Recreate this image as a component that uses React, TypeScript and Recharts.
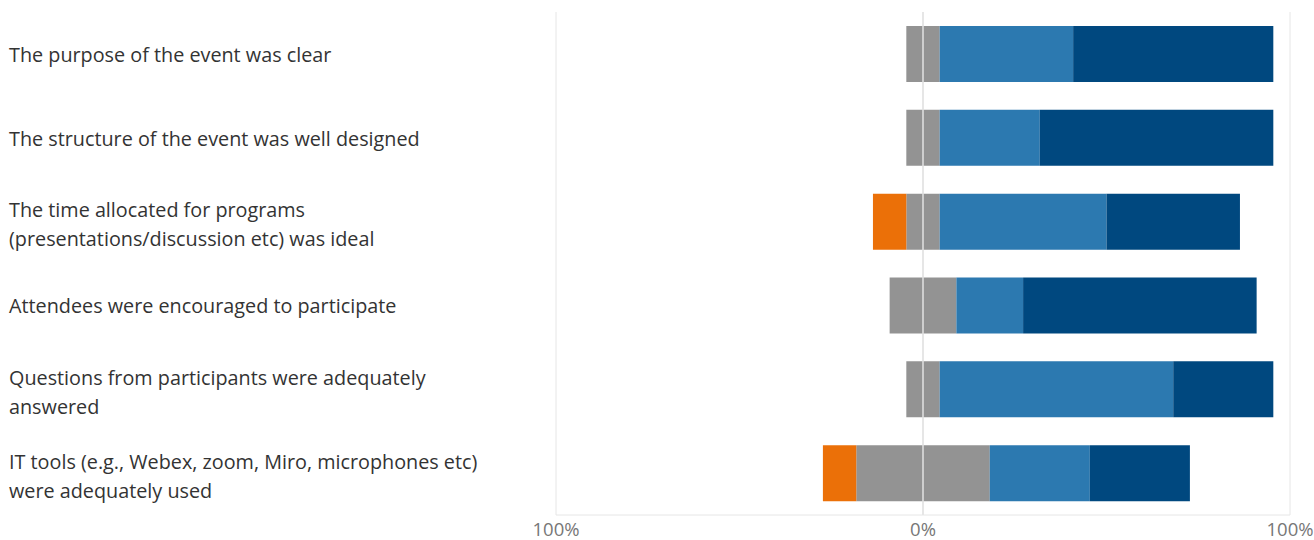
import React from 'react';
import {
  BarChart,
  Bar,
  XAxis,
  YAxis,
  CartesianGrid,
  ReferenceLine,
} from 'recharts';

// --- Data (respondent counts per statement) ---
const statements = [
  'The purpose of the event was clear',
  'The structure of the event was well designed',
  'The time allocated for programs\n(presentations/discussion etc) was ideal',
  'Attendees were encouraged to participate',
  'Questions from participants were adequately\nanswered',
  'IT tools (e.g., Webex, zoom, Miro, microphones etc)\nwere adequately used',
];
const disagree = [0, 0, 1, 0, 0, 1];
const neutral = [1, 1, 1, 2, 1, 4];
const agree = [4, 3, 5, 2, 7, 3];
const stronglyAgree = [6, 7, 4, 7, 3, 3];
const respondents = 11;

const xTicks = [-1, 0, 1];

const COLORS = {
  disagree: '#EB7008',
  neutral: '#939393',
  agree: '#2C79B0',
  stronglyAgree: '#00487F',
};

// neutral answers are split in half around 0
const data = statements.map((name, i) => ({
  name,
  neutralNeg: -neutral[i] / respondents / 2,
  disagree: -disagree[i] / respondents,
  neutralPos: neutral[i] / respondents / 2,
  agree: agree[i] / respondents,
  stronglyAgree: stronglyAgree[i] / respondents,
}));

const FONT = '"Open Sans", sans-serif';

const StatementTick = (props: any) => {
  const { y, payload } = props;
  const lines: string[] = String(payload.value).split('\n');
  const lineHeight = 29;
  const startY = y - ((lines.length - 1) * lineHeight) / 2 + (lines.length > 1 ? 5 : 3);
  return (
    <text x={9} y={startY} textAnchor="start" dominantBaseline="middle" fill="#333" fontSize={19.8} fontFamily={FONT}>
      {lines.map((line, i) => (
        <tspan key={i} x={9} dy={i === 0 ? 0 : lineHeight}>
          {line}
        </tspan>
      ))}
    </text>
  );
};

const App: React.FC = () => {
  return (
    <div style={{ position: 'absolute', left: 0, top: 0, background: '#fff' }}>
      <BarChart
        width={1314}
        height={540}
        data={data}
        layout="vertical"
        stackOffset="sign"
        barSize={56}
        margin={{ top: 12, right: 24, bottom: 0, left: 0 }}
      >
        <CartesianGrid horizontal={false} stroke="#e6e6e6" verticalValues={xTicks} />
        <XAxis
          type="number"
          domain={[-1, 1]}
          ticks={xTicks}
          tickFormatter={(v: number) => `${Math.round(Math.abs(v) * 100)}%`}
          axisLine={{ stroke: '#e6e6e6' }}
          tickLine={false}
          tickSize={0}
          tickMargin={8}
          height={25}
          tick={{ fill: '#777', fontSize: 18.5, fontFamily: FONT }}
          interval={0}
        />
        <YAxis
          type="category"
          dataKey="name"
          width={556}
          axisLine={false}
          tickLine={false}
          tick={<StatementTick />}
          interval={0}
        />
        <Bar dataKey="neutralNeg" stackId="s" fill={COLORS.neutral} isAnimationActive={false} />
        <Bar dataKey="disagree" stackId="s" fill={COLORS.disagree} isAnimationActive={false} />
        <Bar dataKey="neutralPos" stackId="s" fill={COLORS.neutral} isAnimationActive={false} />
        <Bar dataKey="agree" stackId="s" fill={COLORS.agree} isAnimationActive={false} />
        <Bar dataKey="stronglyAgree" stackId="s" fill={COLORS.stronglyAgree} isAnimationActive={false} />
        <ReferenceLine x={0} stroke="#e2e2e2" strokeWidth={1.5} />
      </BarChart>
    </div>
  );
};

export default App;
